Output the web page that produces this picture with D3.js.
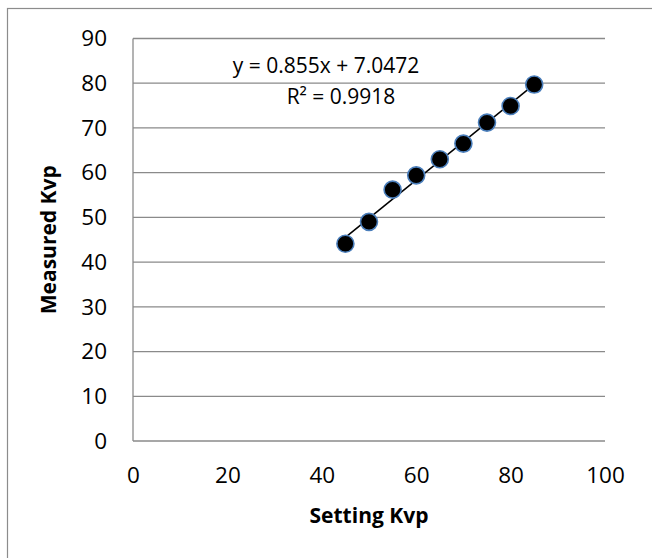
<!DOCTYPE html>
<html>
<head>
<meta charset="utf-8">
<script src="https://cdn.jsdelivr.net/npm/d3@7"></script>
<style>
  body { margin: 0; background: #fff; }
  svg { display: block; font-family: 'Open Sans', sans-serif; }
</style>
</head>
<body>
<div id="chart"></div>
<script>
// Data
const settingKvp = [45, 50, 55, 60, 65, 70, 75, 80, 85];
const measuredKvp = [44.1, 49.0, 56.2, 59.4, 63.0, 66.5, 71.2, 74.9, 79.7];
const xTicks = [0, 20, 40, 60, 80, 100];
const yTicks = [0, 10, 20, 30, 40, 50, 60, 70, 80, 90];
const trendSlope = 0.855;
const trendIntercept = 7.0472;
const equationText = 'y = 0.855x + 7.0472';
const r2Text = 'R² = 0.9918';

const WIDTH = 652;
const HEIGHT = 558;
const PLOT = { left: 133, right: 605, top: 38.5, bottom: 441 };

const svg = d3.select('#chart')
  .append('svg')
  .attr('width', WIDTH)
  .attr('height', HEIGHT);

// outer chart border (cropped at right/bottom in the reference)
svg.append('rect')
  .attr('x', 7.5)
  .attr('y', 8.5)
  .attr('width', 660)
  .attr('height', 570)
  .attr('fill', 'none')
  .attr('stroke', '#8c8c8c')
  .attr('stroke-width', 1.2);

const x = d3.scaleLinear().domain([0, 100]).range([PLOT.left, PLOT.right]);
const y = d3.scaleLinear().domain([0, 90]).range([PLOT.bottom, PLOT.top]);

// horizontal gridlines
svg.append('g')
  .selectAll('line')
  .data(yTicks)
  .join('line')
  .attr('x1', PLOT.left)
  .attr('x2', PLOT.right)
  .attr('y1', d => y(d))
  .attr('y2', d => y(d))
  .attr('stroke', '#8a8a8a')
  .attr('stroke-width', 1.3);

// y axis line
svg.append('line')
  .attr('x1', PLOT.left).attr('x2', PLOT.left)
  .attr('y1', PLOT.top).attr('y2', PLOT.bottom)
  .attr('stroke', '#8a8a8a')
  .attr('stroke-width', 1.3);

// y tick labels
const yAxis = d3.axisLeft(y).tickValues(yTicks).tickSize(0).tickPadding(26);
svg.append('g')
  .attr('transform', `translate(${PLOT.left},0)`)
  .call(yAxis)
  .call(g => g.select('.domain').remove())
  .selectAll('text')
  .attr('font-family', "'Open Sans', sans-serif")
  .attr('font-size', 22.5)
  .attr('fill', '#000');

// x tick labels
const xAxis = d3.axisBottom(x).tickValues(xTicks).tickSize(0).tickPadding(26);
svg.append('g')
  .attr('transform', `translate(0,${PLOT.bottom})`)
  .call(xAxis)
  .call(g => g.select('.domain').remove())
  .selectAll('text')
  .attr('font-family', "'Open Sans', sans-serif")
  .attr('font-size', 22.5)
  .attr('fill', '#000');

// linear trendline
const trendX = d3.extent(settingKvp);
svg.append('line')
  .attr('x1', x(trendX[0]))
  .attr('y1', y(trendSlope * trendX[0] + trendIntercept))
  .attr('x2', x(trendX[1]))
  .attr('y2', y(trendSlope * trendX[1] + trendIntercept))
  .attr('stroke', '#000')
  .attr('stroke-width', 1.6);

// markers
svg.append('g')
  .selectAll('circle')
  .data(settingKvp)
  .join('circle')
  .attr('cx', d => x(d))
  .attr('cy', (d, i) => y(measuredKvp[i]))
  .attr('r', 8.5)
  .attr('fill', '#000')
  .attr('stroke', '#4a7ebb')
  .attr('stroke-width', 1.6);

// trendline label
svg.append('text')
  .attr('x', 326)
  .attr('y', 73)
  .attr('text-anchor', 'middle')
  .attr('font-size', 21)
  .text(equationText);
svg.append('text')
  .attr('x', 341)
  .attr('y', 104)
  .attr('text-anchor', 'middle')
  .attr('font-size', 21)
  .text(r2Text);

// axis titles
svg.append('text')
  .attr('x', (PLOT.left + PLOT.right) / 2)
  .attr('y', 523)
  .attr('text-anchor', 'middle')
  .attr('font-size', 21)
  .attr('font-weight', 'bold')
  .text('Setting Kvp');

svg.append('text')
  .attr('transform', `translate(56,${(PLOT.top + PLOT.bottom) / 2}) rotate(-90)`)
  .attr('text-anchor', 'middle')
  .attr('font-size', 21)
  .attr('font-weight', 'bold')
  .text('Measured Kvp');
</script>
</body>
</html>
